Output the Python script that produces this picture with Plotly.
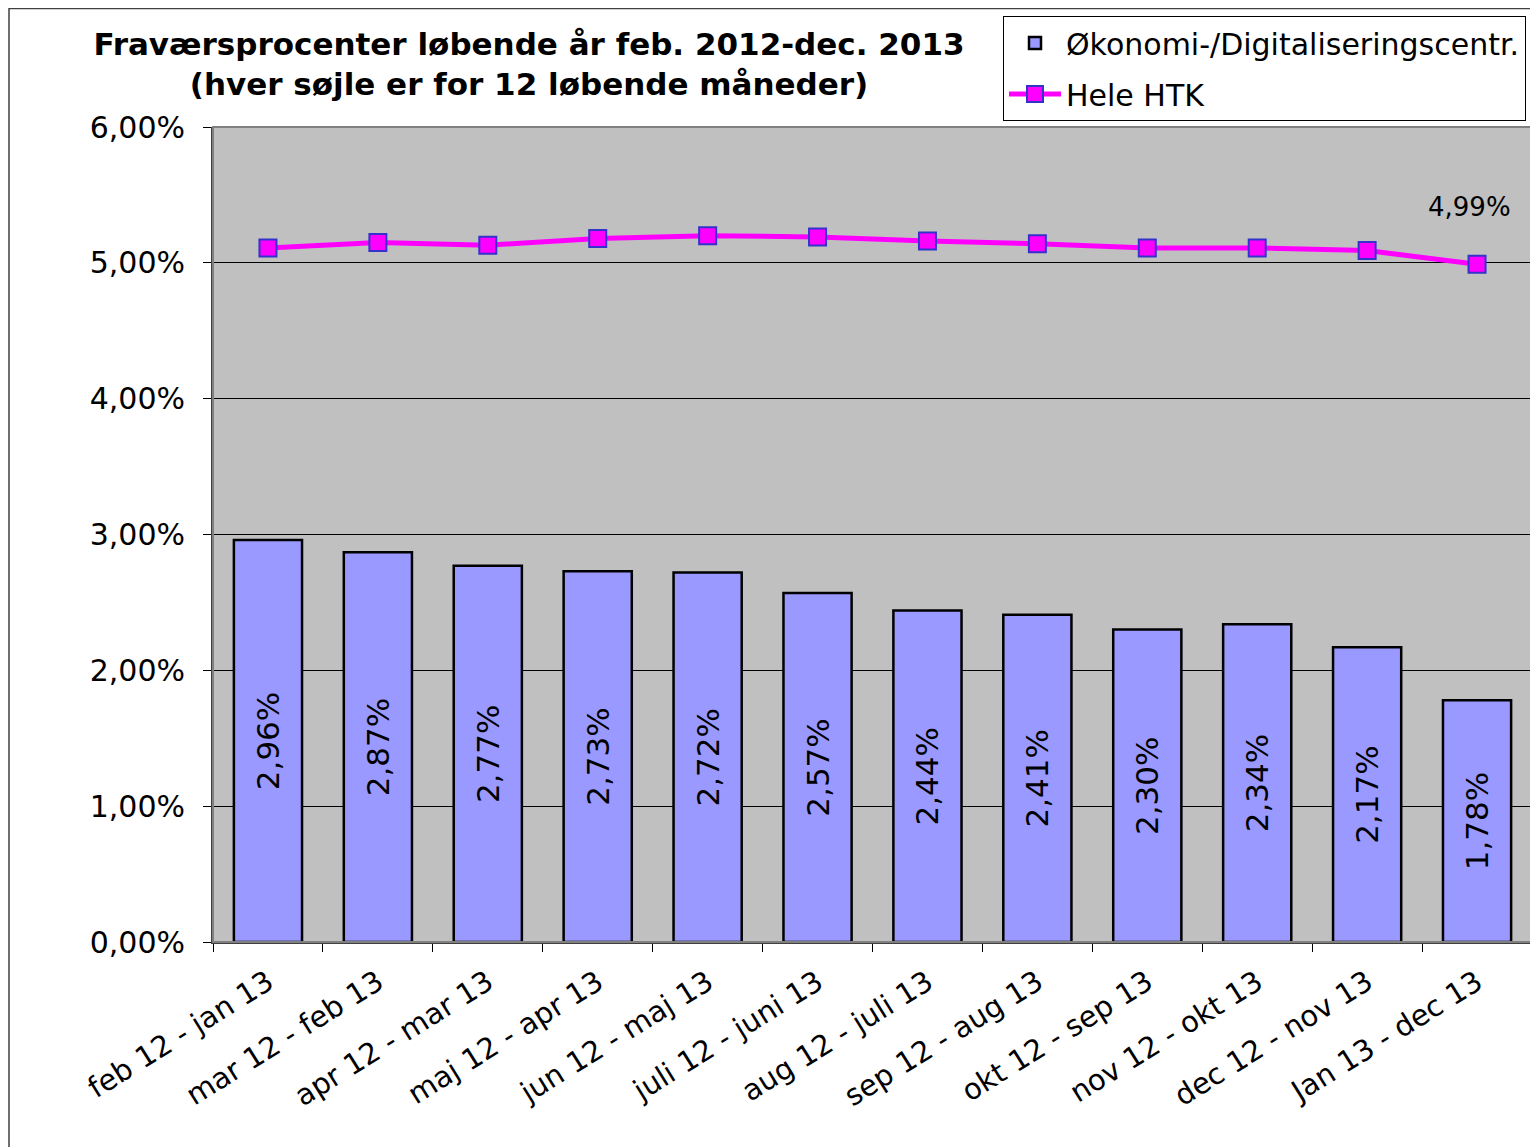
import plotly.graph_objects as go

categories = ["feb 12 - jan 13", "mar 12 - feb 13", "apr 12 - mar 13", "maj 12 - apr 13",
              "jun 12 - maj 13", "juli 12 - juni 13", "aug 12 - juli 13", "sep 12 - aug 13",
              "okt 12 - sep 13", "nov 12 - okt 13", "dec 12 - nov 13", "Jan 13 - dec 13"]
okonomi = [0.0296, 0.0287, 0.0277, 0.0273, 0.0272, 0.0257, 0.0244, 0.0241, 0.0230, 0.0234, 0.0217, 0.0178]
hele_htk = [0.0511, 0.0515, 0.0513, 0.0518, 0.0520, 0.0519, 0.0516, 0.0514, 0.0511, 0.0511, 0.0509, 0.0499]
y_ticks = [0, 0.01, 0.02, 0.03, 0.04, 0.05, 0.06]

FONT = "DejaVu Sans"
OFF = 8  # page body margin
W, H = 1538 - OFF, 1147 - OFF
L, T = 213 - OFF, 127 - OFF
R = W - (1532 - OFF)
B = H - (942 - OFF)
pw, ph = W - L - R, H - T - B

def px_x(x):  # reference pixel -> paper coord
    return (x - OFF - L) / pw

def px_y(y):
    return (H - B - (y - OFF)) / ph

fig = go.Figure()
fig.add_trace(go.Bar(
    x=categories, y=okonomi, name="Økonomi-/Digitaliseringscentr.",
    legendgroup="a",
    marker=dict(color="#9999FF", line=dict(color="black", width=2.5)),
    width=0.62,
    texttemplate="%{y:.2%}", textposition="inside", insidetextanchor="middle",
    textangle=-90, constraintext="none",
    textfont=dict(family=FONT, size=31, color="black"),
))
fig.add_trace(go.Scatter(
    x=categories, y=hele_htk, name="Hele HTK", mode="lines+markers",
    legendgroup="b",
    line=dict(color="#FF00FF", width=5),
    marker=dict(symbol="square", size=17, color="#FF00FF", line=dict(color="#3333CC", width=2)),
))

fig.add_annotation(x=categories[-1], y=hele_htk[-1], text="4,99%", showarrow=False,
                   xshift=-8, yshift=57, font=dict(family=FONT, size=26, color="black"))

fig.update_layout(
    width=W, height=H,
    margin=dict(l=L, r=R, t=T, b=B, pad=0),
    paper_bgcolor="white", plot_bgcolor="#C0C0C0",
    separators=",.",
    font=dict(family=FONT, color="black"),
    title=dict(text="<b>Fraværsprocenter løbende år feb. 2012-dec. 2013<br>(hver søjle er for 12 løbende måneder)</b>",
               x=(529 - OFF) / W, xanchor="center", y=1 - (55 - OFF) / H, yanchor="middle",
               font=dict(family=FONT, size=31, color="black")),
    legend=dict(x=px_x(1003), y=px_y(16), xanchor="left", yanchor="top",
                bgcolor="white", bordercolor="black", borderwidth=1,
                font=dict(family=FONT, size=30, color="black"),
                traceorder="grouped", tracegroupgap=9, itemwidth=52),
    showlegend=True,
)
fig.update_yaxes(range=[0, 0.06], tickvals=y_ticks, tickformat=".2%",
                 showgrid=True, gridcolor="black", gridwidth=1,
                 showline=True, linecolor="#404040", linewidth=2,
                 ticks="outside", ticklen=8, tickcolor="black", ticklabelstandoff=12,
                 tickfont=dict(family=FONT, size=30, color="black"), zeroline=False)
fig.update_xaxes(type="category", range=[-0.5, len(categories) - 0.5],
                 tickson="boundaries", ticks="outside", ticklen=8,
                 tickcolor="black", showline=True, linecolor="#404040", linewidth=2,
                 tickangle=-32, ticklabelstandoff=10,
                 tickfont=dict(family=FONT, size=29, color="black"))

# plot area border
fig.add_shape(type="rect", xref="paper", yref="paper", x0=0, x1=1, y0=0, y1=1,
              line=dict(color="#808080", width=2), fillcolor="rgba(0,0,0,0)", layer="above")
# outer chart area border
fig.add_shape(type="rect", xref="paper", yref="paper", x0=px_x(9), x1=px_x(1560),
              y0=px_y(1170), y1=px_y(8.5), line=dict(color="#404040", width=1.5),
              fillcolor="rgba(0,0,0,0)", layer="below")

fig.write_html("out.html")
